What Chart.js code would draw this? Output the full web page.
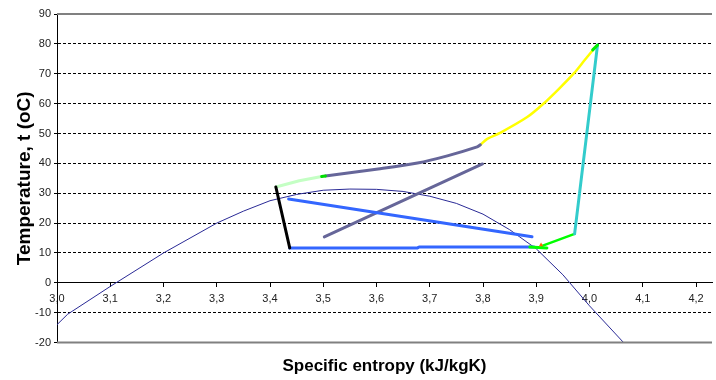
<!DOCTYPE html>
<html>
<head>
<meta charset="utf-8">
<script src="https://cdn.jsdelivr.net/npm/chart.js@4.4.1/dist/chart.umd.min.js"></script>
<style>
  html, body { margin: 0; padding: 0; background: #fff; }
  #wrap { width: 716px; height: 380px; position: relative; }
</style>
</head>
<body>
<div id="wrap"><canvas id="tsChart"></canvas></div>
<script>
// 1. 데이터 (s = kJ/kgK, t = oC)
const domeS = [3.00, 3.02, 3.10, 3.20, 3.30, 3.35, 3.40, 3.45, 3.50, 3.55, 3.60, 3.65, 3.70, 3.75, 3.80, 3.85, 3.90, 3.95, 4.00, 4.064];
const domeT = [-14, -10.5, -1.2, 10, 20, 24, 27.5, 29.6, 31, 31.4, 31.3, 30.6, 29, 26.6, 23, 17.8, 11.4, 2.7, -7.7, -20];

const blackS = [3.411, 3.437];
const blackT = [32.1, 11.7];

const evapS = [3.437, 3.677, 3.68, 3.896];
const evapT = [11.7, 11.7, 12.0, 12.0];

const blueDiagS = [3.435, 3.892];
const blueDiagT = [28.1, 15.4];

const slateDiagS = [3.502, 3.799];
const slateDiagT = [15.4, 39.8];

const slateCurveS = [3.504, 3.603, 3.677, 3.733, 3.789, 3.795];
const slateCurveT = [35.8, 38.1, 40.1, 42.5, 45.5, 46.2];

const paleGreenS = [3.411, 3.455, 3.497];
const paleGreenT = [32.1, 34.2, 35.6];

const yellowS = [3.795, 3.808, 3.832, 3.883, 3.915, 3.944, 3.971, 3.991, 4.008];
const yellowT = [46.2, 48.2, 50.2, 55.5, 60.2, 65.2, 70.2, 74.6, 78.3];

const cyanS = [4.015, 3.972];
const cyanT = [79.6, 16.4];

const greenS = [3.972, 3.911];
const greenT = [16.4, 12.4];

const greenFlatS = [3.888, 3.92];
const greenFlatT = [12.0, 11.7];

const greenTipS = [4.006, 4.015];
const greenTipT = [78.0, 79.6];

const greenDotS = [3.497, 3.504];
const greenDotT = [35.6, 35.8];

const markS = [3.909];
const markT = [12.7];

// 2. 도우미
function pts(xs, ys) {
    return xs.map((x, i) => ({ x: x, y: ys[i] }));
}

function lineSet(xs, ys, color, width, tension) {
    return {
        data: pts(xs, ys),
        showLine: true,
        borderColor: color,
        backgroundColor: color,
        borderWidth: width,
        pointRadius: 0,
        tension: tension || 0,
        borderCapStyle: 'round',
        borderJoinStyle: 'round'
    };
}

// 3. 위/아래 테두리
const frameLines = {
    id: 'frameLines',
    afterDraw(chart) {
        const { ctx, chartArea } = chart;
        ctx.save();
        ctx.strokeStyle = '#808080';
        ctx.lineWidth = 2;
        ctx.beginPath();
        ctx.moveTo(chartArea.left, chartArea.top);
        ctx.lineTo(chartArea.right, chartArea.top);
        ctx.moveTo(chartArea.left, chartArea.bottom);
        ctx.lineTo(chartArea.right, chartArea.bottom);
        ctx.stroke();
        ctx.restore();
    }
};

const labelFont = { family: "'Liberation Sans', Arial, sans-serif", size: 11 };

// 4. 차트
new Chart(document.getElementById('tsChart'), {
    type: 'scatter',
    data: {
        datasets: [
            { data: pts(markS, markT), pointRadius: 2.5, pointStyle: 'triangle', backgroundColor: '#ff6600', borderColor: '#ff6600', borderWidth: 0 },
            lineSet(greenTipS, greenTipT, '#00ee00', 3),
            lineSet(greenDotS, greenDotT, '#00dd00', 3),
            lineSet(blackS, blackT, '#000000', 3),
            lineSet(paleGreenS, paleGreenT, '#c4ffc4', 3),
            lineSet(slateCurveS, slateCurveT, '#666699', 3, 0.3),
            lineSet(yellowS, yellowT, '#ffff00', 2.5, 0.3),
            lineSet(cyanS, cyanT, '#33cccc', 3),
            lineSet(greenFlatS, greenFlatT, '#00ff00', 3),
            lineSet(greenS, greenT, '#00ff00', 2.5),
            lineSet(evapS, evapT, '#3366ff', 3),
            lineSet(blueDiagS, blueDiagT, '#3366ff', 3),
            lineSet(slateDiagS, slateDiagT, '#666699', 3),
            lineSet(domeS, domeT, '#2a2a96', 1)
        ]
    },
    options: {
        responsive: true,
        maintainAspectRatio: false,
        animation: false,
        layout: { padding: { top: 14, left: 0, right: 0, bottom: 0 } },
        plugins: {
            legend: { display: false },
            tooltip: { enabled: false },
            title: {
                display: true,
                position: 'bottom',
                fullSize: false,
                text: 'Specific entropy (kJ/kgK)',
                color: '#000',
                font: { family: "'Liberation Sans', Arial, sans-serif", size: 17, weight: 'bold' },
                padding: { top: 14, bottom: 3 }
            }
        },
        scales: {
            x: {
                type: 'linear',
                position: { y: 0 },
                min: 3.0,
                max: 4.23,
                grid: { drawOnChartArea: false, drawTicks: true, tickLength: 4, color: '#000' },
                border: { display: true, color: '#000', width: 1 },
                ticks: {
                    stepSize: 0.1,
                    includeBounds: false,
                    maxRotation: 0,
                    autoSkip: false,
                    padding: 6,
                    color: '#222',
                    font: labelFont,
                    callback: v => v.toFixed(1).replace('.', ',')
                }
            },
            y: {
                type: 'linear',
                position: 'left',
                min: -20,
                max: 90,
                afterFit(scale) { scale.width = 57; },
                grid: {
                    color: ctx => (ctx.tick && (ctx.tick.value === 90 || ctx.tick.value === -20 || ctx.tick.value === 0)) ? 'rgba(0,0,0,0)' : '#000',
                    tickColor: '#000',
                    tickLength: 3,
                    lineWidth: 1
                },
                border: { display: true, color: '#000', width: 1, dash: [3, 2] },
                ticks: {
                    stepSize: 10,
                    padding: 3,
                    color: '#222',
                    font: labelFont
                },
                title: {
                    display: true,
                    text: 'Temperature, t (oC)',
                    color: '#000',
                    font: { family: "'Liberation Sans', Arial, sans-serif", size: 19, weight: 'bold' },
                    padding: { top: 13, bottom: 0 }
                }
            }
        }
    },
    plugins: [frameLines]
});
</script>
</body>
</html>
